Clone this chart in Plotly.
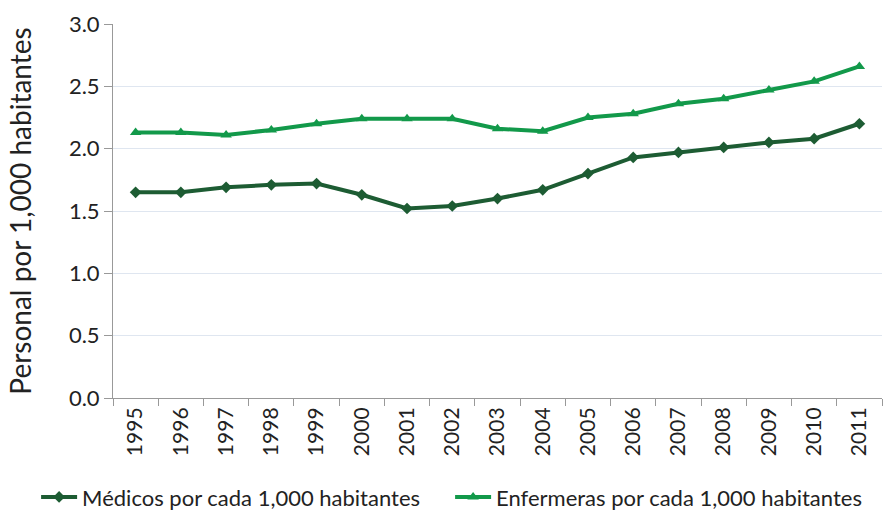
import plotly.graph_objects as go

years = [str(y) for y in range(1995, 2012)]
medicos = [1.65, 1.65, 1.69, 1.71, 1.72, 1.63, 1.52, 1.54, 1.60, 1.67,
           1.80, 1.93, 1.97, 2.01, 2.05, 2.08, 2.20]
enfermeras = [2.13, 2.13, 2.11, 2.15, 2.20, 2.24, 2.24, 2.24, 2.16, 2.14,
              2.25, 2.28, 2.36, 2.40, 2.47, 2.54, 2.66]

dark_green = '#1d5c33'
light_green = '#12994a'
font_family = 'Lato, Open Sans, sans-serif'

fig = go.Figure()

fig.add_trace(go.Scatter(x=years, y=medicos,
                         mode='lines+markers',
                         name='Médicos por cada 1,000 habitantes',
                         line=dict(color=dark_green, width=4),
                         marker=dict(symbol='diamond', size=9, color=dark_green)))

fig.add_trace(go.Scatter(x=years, y=enfermeras,
                         mode='lines+markers',
                         name='Enfermeras por cada 1,000 habitantes',
                         line=dict(color=light_green, width=4),
                         marker=dict(symbol='triangle-up', size=10, color=light_green)))

fig.update_layout(width=885, height=510,
                  margin=dict(l=113, r=3, t=24, b=112, autoexpand=False),
                  paper_bgcolor='white',
                  plot_bgcolor='white',
                  font=dict(family=font_family, size=21, color='#222222'),
                  legend=dict(orientation='h', x=-0.1, xanchor='left',
                              y=-0.265, yanchor='middle',
                              font=dict(size=22),
                              itemwidth=36,
                              entrywidth=363,
                              traceorder='normal'),
                  showlegend=True)

fig.update_xaxes(type='category',
                 range=[-0.5, len(years) - 0.5],
                 tickangle=-90,
                 tickson='boundaries',
                 ticks='outside',
                 ticklen=7,
                 tickcolor='#999999',
                 showline=True,
                 linecolor='#999999',
                 linewidth=1,
                 showgrid=False,
                 automargin=False,
                 tickfont=dict(size=21))

fig.update_yaxes(range=[0, 3.0],
                 dtick=0.5,
                 tickformat='.1f',
                 ticks='outside',
                 ticklen=8,
                 tickcolor='#999999',
                 showline=True,
                 linecolor='#999999',
                 linewidth=1,
                 showgrid=True,
                 gridcolor='#dfe6f0',
                 gridwidth=1,
                 zeroline=False,
                 automargin=False,
                 tickfont=dict(size=22),
                 title=dict(text='Personal por 1,000 habitantes',
                            font=dict(size=28), standoff=29))

fig.write_html("out.html",
               config={'displayModeBar': False},
               post_script="document.body.style.margin='0';document.body.style.overflow='hidden';")
